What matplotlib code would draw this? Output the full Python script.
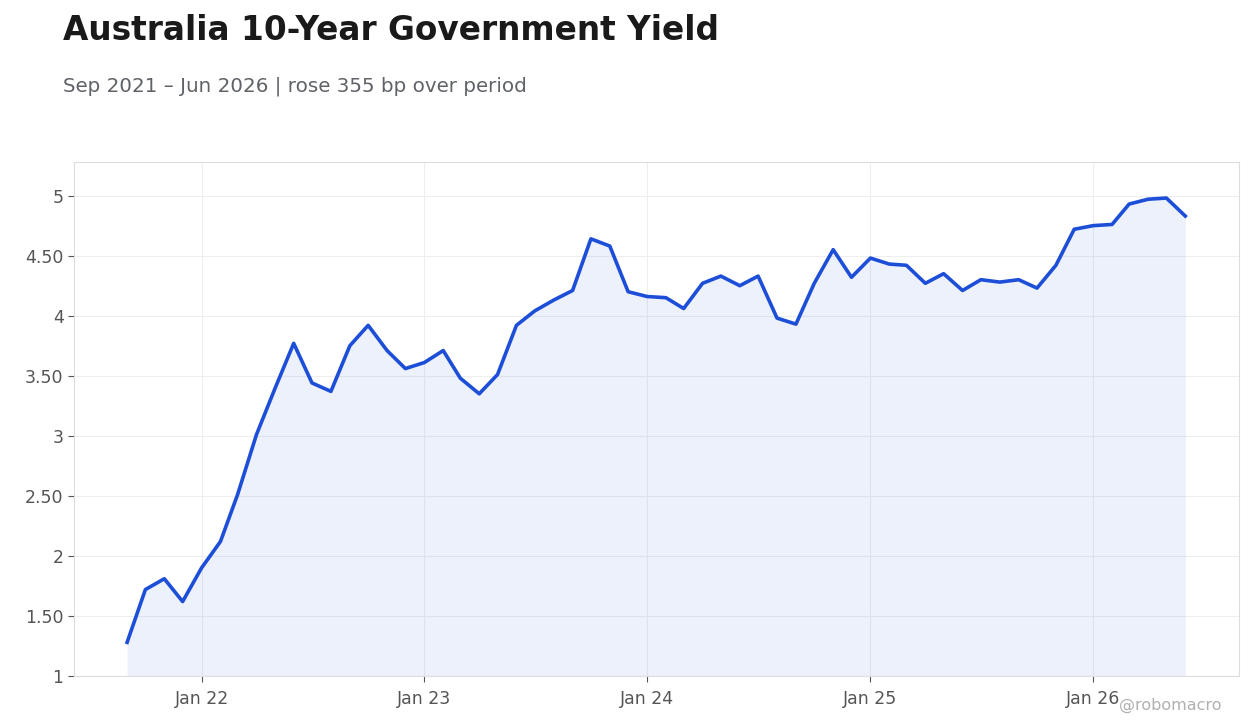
import matplotlib
matplotlib.use('Agg')
import matplotlib.pyplot as plt
import numpy as np
import pandas as pd

start_month = "2021-09-01"
yields = [1.28, 1.72, 1.81, 1.62, 1.90, 2.12, 2.51, 3.01, 3.39, 3.77,
          3.44, 3.37, 3.75, 3.92, 3.71, 3.56, 3.61, 3.71, 3.48, 3.35,
          3.51, 3.92, 4.04, 4.13, 4.21, 4.64, 4.58, 4.20, 4.16, 4.15,
          4.06, 4.27, 4.33, 4.25, 4.33, 3.98, 3.93, 4.27, 4.55, 4.32,
          4.48, 4.43, 4.42, 4.27, 4.35, 4.21, 4.30, 4.28, 4.30, 4.23,
          4.42, 4.72, 4.75, 4.76, 4.93, 4.97, 4.98, 4.83]
yticks = [1, 1.5, 2, 2.5, 3, 3.5, 4, 4.5, 5]
ytick_labels = ["1", "1.50", "2", "2.50", "3", "3.50", "4", "4.50", "5"]
xtick_dates = ["2022-01-01", "2023-01-01", "2024-01-01", "2025-01-01", "2026-01-01"]
xtick_labels = ["Jan 22", "Jan 23", "Jan 24", "Jan 25", "Jan 26"]

dates = pd.date_range(start_month, periods=len(yields), freq="MS")
line_color = "#1d4ed8"

fig = plt.figure(figsize=(12.6, 7.28), dpi=100)
ax = fig.add_axes([74 / 1260, 1 - 676 / 728, (1239 - 74) / 1260, (676 - 162) / 728])
ax.fill_between(dates, yields, 1.0, color=line_color, alpha=0.08, lw=0)
ax.plot(dates, yields, color=line_color, lw=2.6)

ax.set_ylim(1, 5.28)
ax.set_xlim(pd.Timestamp("2021-06-06"), pd.Timestamp("2026-08-28"))
ax.set_yticks(yticks)
ax.set_yticklabels(ytick_labels)
ax.set_xticks(pd.to_datetime(xtick_dates))
ax.set_xticklabels(xtick_labels)
ax.grid(True, color="#eeeeee", lw=0.8)
ax.set_axisbelow(True)
for s in ax.spines.values():
    s.set_color("#dddddd")
ax.tick_params(colors="#555555", labelsize=12.5, length=4)
ax.tick_params(axis="x", pad=6)

fig.text(63 / 1260, 1 - 30 / 728, "Australia 10-Year Government Yield", fontsize=23.6,
         fontweight="bold", color="#1a1a1a", va="center")
fig.text(63 / 1260, 1 - 86 / 728, "Sep 2021 \u2013 Jun 2026 | rose 355 bp over period",
         fontsize=14.3, color="#5f6368", va="center")
fig.text(1222 / 1260, 1 - 705 / 728, "@robomacro", fontsize=11.5, color="#b0b0b0",
         ha="right", va="center")

fig.savefig("out.png", dpi=100)
